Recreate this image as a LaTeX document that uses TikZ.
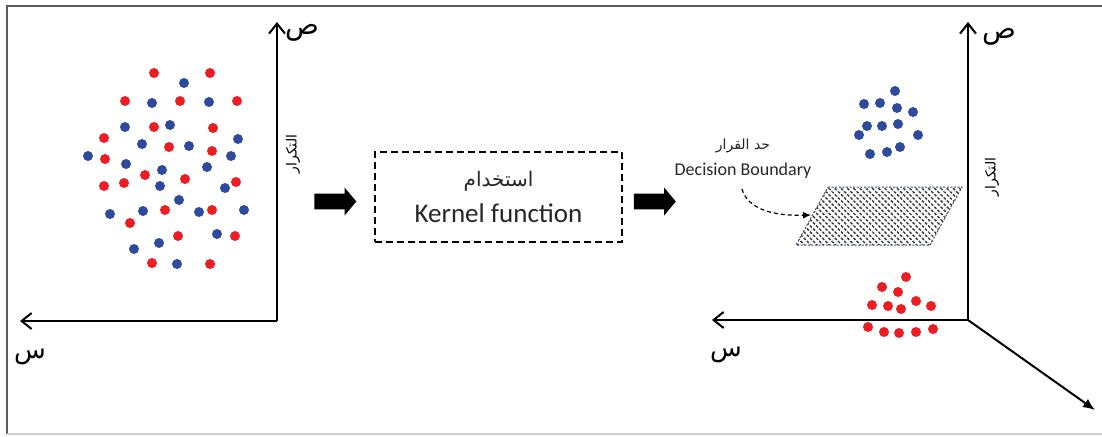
\documentclass[tikz,border=0pt]{standalone}
\usepackage{fontspec}
\setmainfont{Carlito}
\newfontfamily\arabicfont[Script=Arabic]{DejaVu Sans}
\TeXXeTstate=1
\usetikzlibrary{arrows.meta,shapes.arrows,patterns.meta}
\definecolor{dotred}{RGB}{236,30,36}
\definecolor{dotblue}{RGB}{46,74,158}
\definecolor{planeedge}{RGB}{58,78,118}
% arabic text at a given size
\newcommand{\arsize}[1]{\arabicfont\fontsize{#1}{#1}\selectfont}

\begin{document}
\begin{tikzpicture}[x=0.5pt,y=-0.5pt,
dot/.style={%
circle,
inner sep=0pt,
minimum size=5pt
},
axis/.style={%
line width=1pt,
-{Straight Barb[length=5pt,width=8pt]}
},
fatarrow/.style={%
single arrow,
fill=black,
inner xsep=0pt,
inner ysep=3.75pt,
minimum width=0pt,
minimum height=21pt,
single arrow head extend=3pt,
single arrow tip angle=100
},
kbox/.style={%
draw,
dash pattern=on 3.5pt off 2pt,
line width=0.6pt,
minimum width=123.5pt,
minimum height=45pt,
align=center,
text=black!85
},
]
\useasboundingbox (0,0) rectangle (1102,436);
%% Frame
\draw[black!65,line width=0.8pt] (1102,6)--(7,6)--(7,434);
\draw[black!20,line width=0.6pt] (7,434)--(1102,434);

%% Input space
\coordinate (o1) at (277,321);
\coordinate (y1) at (277,22);
\coordinate (x1) at (20,321);
\draw[axis] (o1)--(y1);
\draw[axis] (o1)--(x1);
\node (ly1) at (302,33) {\arsize{14}\beginR ص\endR};
\node (lx1) at (30,357) {\arsize{13}\beginR س\endR};
\node[rotate=90] (lf1) at (293,154) {\arsize{7}\beginR التكرار\endR};
\foreach \x/\y [count=\i] in {154/73,210/73,125/101,180/101,237/101,154/127,213/128,
104/138,169/147,212/151,105/159,145/175,185/179,104/186,124/183,236/182,165/210,
212/210,130/223,178/236,235/236,152/263,210/264}{%
\node[dot,fill=dotred] (r\i) at (\x,\y) {};
}
\foreach \x/\y [count=\i] in {184/83,152/103,209/102,125/127,170/125,238/139,142/144,
189/146,88/156,231/156,126/164,162/170,207/167,160/186,225/188,179/200,110/214,
143/211,199/212,244/210,217/234,159/243,134/249,177/264}{%
\node[dot,fill=dotblue] (b\i) at (\x,\y) {};
}

%% Kernel step
\node[fatarrow] (arr1) at (332,201.5) {};
\node[kbox] (kern) at (498.5,197) {{\arsize{10}\beginR استخدام\endR}\\[6pt]{\fontsize{13.5}{15}\selectfont Kernel function}};
\node[fatarrow] (arr2) at (651.5,201.5) {};

%% Feature space
\coordinate (o2) at (968,320);
\coordinate (y2) at (968,22);
\coordinate (x2) at (712,320);
\coordinate (z2) at (1095,410);
\draw[axis] (o2)--(y2);
\draw[axis] (o2)--(x2);
\draw[line width=1pt,-{Latex[length=6pt,width=5pt]}] (o2)--(z2);
\node (ly2) at (999,37) {\arsize{14}\beginR ص\endR};
\node (lx2) at (726,355) {\arsize{13}\beginR س\endR};
\node[rotate=90] (lf2) at (992,177) {\arsize{7}\beginR التكرار\endR};
\foreach \x/\y [count=\i] in {895/91,864/104,880/103,897/108,913/112,867/126,882/126,
898/124,859/135,918/135,870/154,887/152,900/147}{%
\node[dot,fill=dotblue] (fb\i) at (\x,\y) {};
}
\foreach \x/\y [count=\i] in {906/277,882/287,898/292,872/305,888/306,901/309,916/301,
931/306,868/327,884/332,899/333,916/332,933/329}{%
\node[dot,fill=dotred] (fr\i) at (\x,\y) {};
}

%% Decision boundary
\draw[planeedge,line width=0.5pt,dash pattern=on 1pt off 0.8pt,
pattern={Lines[angle=-45,distance=2.2pt,line width=0.7pt]},pattern color=black!80]
(828,187)--(962,187)--(930,245)--(796,245)--cycle;
\node[align=center,text=black!85,inner sep=0pt] (dblbl) at (743,159)
{{\arsize{7}\beginR حد القرار\endR}\\[1pt]{\fontsize{9}{10}\selectfont Decision Boundary}};
\coordinate (dbstart) at (742,189);
\coordinate (dbtip) at (811,215);
\draw[line width=0.6pt,dash pattern=on 2pt off 1.5pt,-{Latex[length=4pt,width=3.5pt]}]
(dbstart) .. controls (748,210) and (775,216) .. (dbtip);
\end{tikzpicture}
\end{document}
